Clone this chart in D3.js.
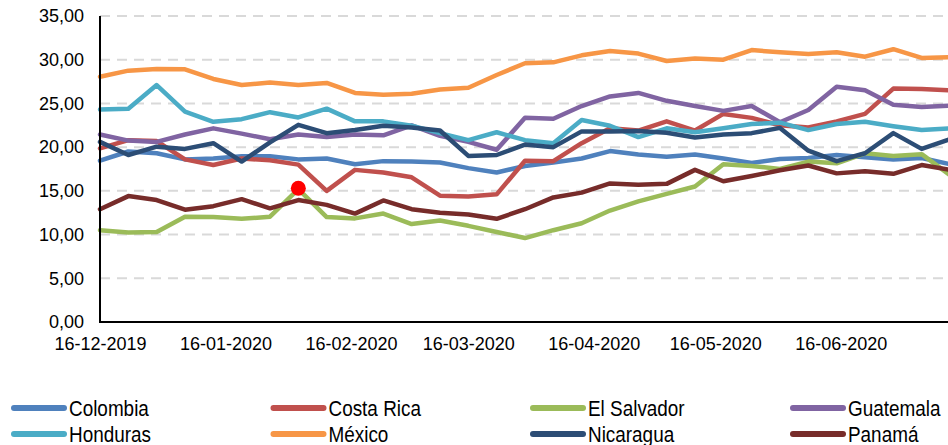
<!DOCTYPE html>
<html>
<head>
<meta charset="utf-8">
<script src="https://cdn.jsdelivr.net/npm/d3@7"></script>
<style>
  html, body { margin: 0; padding: 0; background: #fff; }
  svg { display: block; }
  svg text { font-family: "Liberation Sans", Arial, sans-serif; }
</style>
</head>
<body>
<svg id="chart" width="948" height="445"></svg>
<script>
// ---- DATA ----
const dates = [
  "16-12-2019","23-12-2019","30-12-2019","06-01-2020","13-01-2020","20-01-2020","27-01-2020",
  "03-02-2020","10-02-2020","17-02-2020","24-02-2020","02-03-2020","09-03-2020","16-03-2020",
  "23-03-2020","30-03-2020","06-04-2020","13-04-2020","20-04-2020","27-04-2020","04-05-2020",
  "11-05-2020","18-05-2020","25-05-2020","01-06-2020","08-06-2020","15-06-2020","22-06-2020",
  "29-06-2020","06-07-2020","13-07-2020"
];
const tickLabels = ["16-12-2019","16-01-2020","16-02-2020","16-03-2020","16-04-2020","16-05-2020","16-06-2020"];
const yTicks = [0, 5, 10, 15, 20, 25, 30, 35];

const colombia   = [18.45,19.5,19.3,18.6,18.7,18.95,18.95,18.6,18.7,18.05,18.4,18.35,18.25,17.6,17.1,17.85,18.25,18.7,19.55,19.15,18.9,19.15,18.7,18.2,18.65,18.75,19.1,18.85,18.6,18.75,18.05];
const costaRica  = [19.85,20.8,20.7,18.6,17.95,18.7,18.5,18.0,15.0,17.4,17.1,16.55,14.45,14.35,14.6,18.45,18.4,20.45,22.15,21.9,22.95,21.9,23.8,23.35,22.5,22.25,22.95,23.8,26.7,26.65,26.5];
const elSalvador = [10.5,10.25,10.3,12.05,12.0,11.8,12.05,15.2,12.0,11.85,12.4,11.2,11.6,11.0,10.3,9.6,10.5,11.3,12.75,13.8,14.65,15.5,18.05,17.85,17.5,18.35,18.15,19.3,19.0,19.2,16.8];
const guatemala  = [21.45,20.75,20.6,21.45,22.15,21.55,20.9,21.45,21.15,21.45,21.35,22.5,21.3,20.6,19.7,23.35,23.25,24.7,25.8,26.2,25.3,24.7,24.15,24.7,22.85,24.25,26.9,26.5,24.85,24.6,24.75];
const honduras   = [24.3,24.4,27.1,24.05,22.9,23.2,24.0,23.4,24.4,22.95,22.95,22.45,21.6,20.8,21.7,20.8,20.45,23.1,22.45,21.15,22.15,21.7,22.15,22.65,22.8,21.95,22.65,22.9,22.4,21.95,22.15];
const mexico     = [28.05,28.75,28.95,28.9,27.8,27.1,27.4,27.1,27.35,26.2,26.0,26.1,26.6,26.8,28.25,29.6,29.7,30.5,31.0,30.7,29.85,30.15,30.0,31.1,30.85,30.65,30.85,30.35,31.2,30.2,30.3];
const nicaragua  = [20.6,19.1,20.05,19.8,20.45,18.35,20.55,22.55,21.6,21.95,22.45,22.25,21.9,19.0,19.1,20.3,20.0,21.8,21.8,21.85,21.65,21.1,21.45,21.6,22.2,19.6,18.4,19.3,21.6,19.8,20.9];
const panama     = [12.9,14.4,13.95,12.85,13.25,14.05,13.0,13.95,13.4,12.4,13.9,12.9,12.5,12.3,11.8,12.9,14.25,14.8,15.85,15.7,15.8,17.4,16.1,16.7,17.35,17.9,17.0,17.25,16.95,17.95,17.4];

const seriesNames  = ["Colombia","Costa Rica","El Salvador","Guatemala","Honduras","México","Nicaragua","Panamá"];
const seriesValues = [colombia, costaRica, elSalvador, guatemala, honduras, mexico, nicaragua, panama];
const seriesColors = ["#4F81BD","#C0504D","#9BBB59","#8064A2","#4BACC6","#F79646","#2C4D75","#772C2A"];

// highlighted point (red dot): El Salvador at 03-02-2020
const highlightDate = "03-02-2020";
const highlightValue = 15.3;

// ---- CHART ----
const parse = d3.utcParse("%d-%m-%Y");
const svg = d3.select("#chart");

const x = d3.scaleUtc()
  .domain([parse("16-12-2019"), parse("13-07-2020")])
  .range([100, 950]);
const y = d3.scaleLinear().domain([0, 35]).range([322, 16]);

// gridlines
svg.append("g")
  .selectAll("line")
  .data(yTicks.filter(d => d > 0))
  .join("line")
  .attr("x1", 100).attr("x2", 948)
  .attr("y1", d => y(d)).attr("y2", d => y(d))
  .attr("stroke", "#d9d9d9")
  .attr("stroke-width", 2)
  .attr("stroke-dasharray", "10,7");

// y axis
const yAxis = d3.axisLeft(y).tickValues(yTicks).tickSize(0).tickPadding(16)
  .tickFormat(d => d3.format(".2f")(d).replace(".", ","));
const gy = svg.append("g").attr("transform", "translate(100,0)").call(yAxis);
gy.attr("font-family", null);
gy.select(".domain").remove();
gy.selectAll("text").attr("font-size", 18).attr("fill", "#000");

// x axis
const xAxis = d3.axisBottom(x).tickValues(tickLabels.map(parse)).tickSize(0).tickPadding(15)
  .tickFormat(d3.utcFormat("%d-%m-%Y"));
const gx = svg.append("g").attr("transform", "translate(0,322)").call(xAxis);
gx.attr("font-family", null);
gx.select(".domain").remove();
gx.selectAll("text").attr("font-size", 18).attr("fill", "#000");

// lines
const line = d3.line()
  .x((d, i) => x(parse(dates[i])))
  .y(d => y(d));

svg.append("g")
  .selectAll("path")
  .data(seriesValues)
  .join("path")
  .attr("d", d => line(d))
  .attr("fill", "none")
  .attr("stroke", (d, i) => seriesColors[i])
  .attr("stroke-width", 4.5)
  .attr("stroke-linejoin", "round")
  .attr("stroke-linecap", "round");

// axis lines (drawn over)
svg.append("line").attr("x1", 100).attr("x2", 100).attr("y1", 16).attr("y2", 322)
  .attr("stroke", "#000").attr("stroke-width", 2);
svg.append("line").attr("x1", 99).attr("x2", 948).attr("y1", 322).attr("y2", 322)
  .attr("stroke", "#000").attr("stroke-width", 2);

// red highlight dot
svg.append("circle")
  .attr("cx", x(parse(highlightDate)))
  .attr("cy", y(highlightValue))
  .attr("r", 7.5)
  .attr("fill", "#ff0000");

// legend
const legendCols = [11, 270.5, 530, 790];
const legendRows = [408, 434];
const lg = svg.append("g")
  .selectAll("g")
  .data(seriesNames)
  .join("g")
  .attr("transform", (d, i) => `translate(${legendCols[i % 4]},${legendRows[Math.floor(i / 4)]})`);
lg.append("line")
  .attr("x1", 3).attr("x2", 53).attr("y1", 0).attr("y2", 0)
  .attr("stroke", (d, i) => seriesColors[i])
  .attr("stroke-width", 6)
  .attr("stroke-linecap", "round");
lg.append("text")
  .attr("transform", "translate(58,0) scale(0.86,1)")
  .attr("dy", "0.36em")
  .attr("font-size", 22)
  .attr("fill", "#000")
  .text(d => d);
</script>
</body>
</html>
